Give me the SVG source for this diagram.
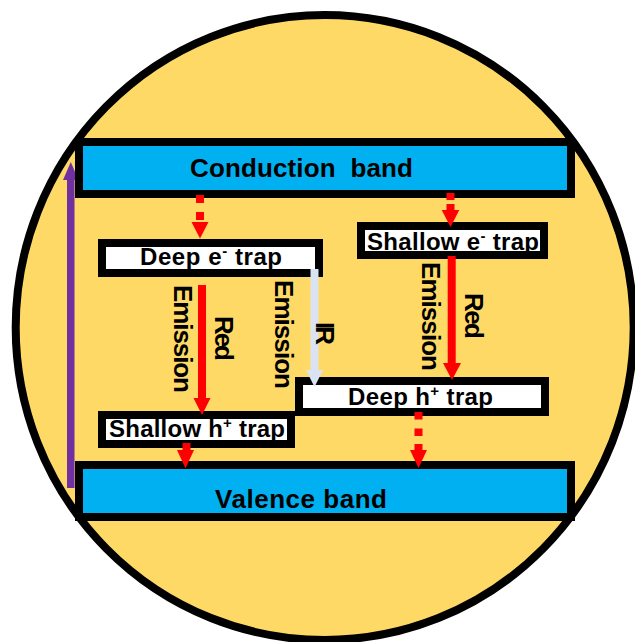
<svg xmlns="http://www.w3.org/2000/svg" width="635" height="642" viewBox="0 0 635 642">
<style>
.band{fill:#00B0F0;stroke:#000;stroke-width:8}
.trap{fill:#fff;stroke:#000;stroke-width:8}
.t{font-family:"Liberation Sans",Arial,sans-serif;font-weight:bold;fill:#000}
.big{font-size:26px}
.mid{font-size:24px}
.vt{font-size:26px}
.sup{font-size:15px}
.red{fill:#FF0000}
.ir{fill:#DAE3F3}
.pur{fill:#7030A0}
</style>
<rect width="635" height="642" fill="#fff"/>
<ellipse id="bg" cx="324.7" cy="327.5" rx="309" ry="312.5" fill="#FFD966" stroke="#000" stroke-width="8"/>

<g id="excitation">
<rect class="pur" x="67" y="178" width="7.5" height="310"/>
<polygon class="pur" points="63,180 78.5,180 70.8,162"/>
</g>

<g id="conduction-band">
<rect class="band" x="79" y="142" width="492" height="52"/>
<text class="t big" x="190" y="177" textLength="223" xml:space="preserve">Conduction  band</text>
</g>

<g id="valence-band">
<rect class="band" x="79" y="465" width="492" height="52"/>
<text class="t big" x="215" y="507.5" textLength="172">Valence band</text>
</g>

<g id="deep-e-trap">
<rect class="trap" x="102" y="243" width="217" height="30"/>
<text class="t mid" x="140" y="265" textLength="142">Deep e<tspan class="sup" dy="-9">-</tspan><tspan dy="9"> trap</tspan></text>
</g>

<g id="shallow-e-trap">
<rect class="trap" x="361" y="226" width="183" height="29"/>
<text class="t mid" x="367" y="250" textLength="172">Shallow e<tspan class="sup" dy="-9">-</tspan><tspan dy="9"> trap</tspan></text>
</g>

<g id="shallow-h-trap">
<rect class="trap" x="102" y="415" width="189" height="29"/>
<text class="t mid" x="109" y="437" textLength="176">Shallow h<tspan class="sup" dy="-9">+</tspan><tspan dy="9"> trap</tspan></text>
</g>

<g id="deep-h-trap">
<rect class="trap" x="299" y="381" width="246" height="31"/>
<text class="t mid" x="348" y="405" textLength="145">Deep h<tspan class="sup" dy="-9">+</tspan><tspan dy="9"> trap</tspan></text>
</g>

<g id="connectors">
<!-- CB to deep e- trap (dashed) -->
<rect class="red" x="196" y="195" width="8" height="8"/>
<rect class="red" x="196" y="212" width="8" height="8"/>
<polygon class="red" points="191.5,222 208.5,222 200,238.5"/>
<!-- CB to shallow e- trap (dashed) -->
<rect class="red" x="446.5" y="193" width="8" height="7"/>
<rect class="red" x="446.5" y="204" width="8" height="7"/>
<polygon class="red" points="441.7,210 459.3,210 450.5,227"/>
<!-- Red emission left -->
<rect class="red" x="198" y="285" width="8" height="115"/>
<polygon class="red" points="193.5,398 210.5,398 202,415"/>
<!-- IR emission -->
<rect class="ir" x="310.5" y="269" width="8" height="103"/>
<polygon class="ir" points="306,370 323,370 314.5,387"/>
<!-- Red emission right -->
<rect class="red" x="447.7" y="256" width="8" height="109"/>
<polygon class="red" points="443,363 461,363 452,380"/>
<!-- shallow h+ trap to VB (dashed) -->
<rect class="red" x="182.5" y="443" width="8" height="7"/>
<polygon class="red" points="177,450 194,450 185.5,468.5"/>
<!-- deep h+ trap to VB (dashed) -->
<rect class="red" x="414.5" y="412" width="8" height="7.5"/>
<rect class="red" x="414.5" y="428.5" width="8" height="7.5"/>
<rect class="red" x="414.5" y="444" width="8" height="7"/>
<polygon class="red" points="410,450 427,450 418.5,468"/>
</g>

<g id="labels">
<text class="t vt" transform="translate(174,285) rotate(90)" textLength="108">Emission</text>
<text class="t vt" transform="translate(215,316) rotate(90)" textLength="45">Red</text>
<text class="t vt" transform="translate(275,280) rotate(90)" textLength="109">Emission</text>
<text class="t vt" transform="translate(316,322) rotate(90)" textLength="23">IR</text>
<text class="t vt" transform="translate(422,262) rotate(90)" textLength="109">Emission</text>
<text class="t vt" transform="translate(465,293) rotate(90)" textLength="46">Red</text>
</g>
</svg>
